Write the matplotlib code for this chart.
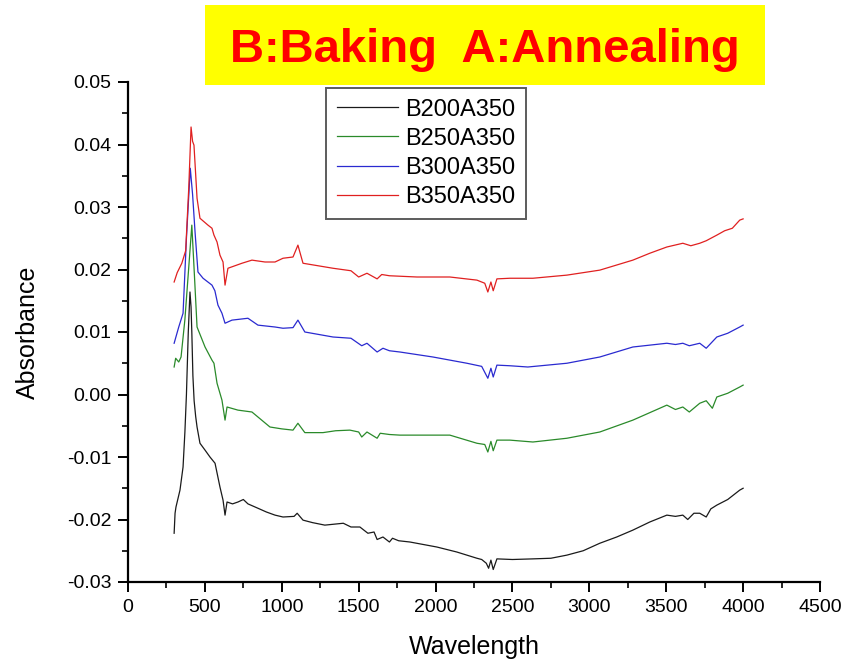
import matplotlib
matplotlib.use("Agg")
import matplotlib.pyplot as plt
from matplotlib.patches import Rectangle
from matplotlib.ticker import MultipleLocator

plt.rcParams['font.family'] = ['Liberation Sans', 'DejaVu Sans']

# ---- data ----
x_b200 = [300, 306, 312, 338, 358, 370, 380, 392, 403, 410, 415, 422, 430, 440, 449, 468, 501, 533, 566,
          598, 618, 631, 644, 680, 715, 750, 780, 845, 900, 956, 1008, 1080, 1100, 1138, 1200, 1280, 1400,
          1450, 1508, 1560, 1600, 1620, 1658, 1700, 1720, 1760, 1833, 2008, 2138, 2269, 2300, 2330, 2345,
          2360, 2375, 2399, 2500, 2633, 2750, 2854, 2960, 3068, 3178, 3283, 3393, 3504, 3560, 3608, 3640,
          3680, 3718, 3760, 3790, 3829, 3900, 3978, 4000]
y_b200 = [-0.0222, -0.0190, -0.0180, -0.0153, -0.0116, -0.0060, 0.0000, 0.0100, 0.0164, 0.0140, 0.0100,
          0.0030, -0.0010, -0.0035, -0.0052, -0.0078, -0.0089, -0.0100, -0.0110,
          -0.0148, -0.0169, -0.0193, -0.0172, -0.0175, -0.0172, -0.0168, -0.0175, -0.0182, -0.0188, -0.0193,
          -0.0196, -0.0195, -0.0190, -0.0201, -0.0205, -0.0209, -0.0206, -0.0212, -0.0212, -0.0222, -0.0220,
          -0.0232, -0.0228, -0.0236, -0.0230, -0.0234, -0.0236, -0.0244, -0.0252, -0.0262, -0.0264, -0.0270,
          -0.0278, -0.0265, -0.0280, -0.0263, -0.0264, -0.0263, -0.0262, -0.0257, -0.0250, -0.0238, -0.0228,
          -0.0217, -0.0204, -0.0193, -0.0195, -0.0193, -0.0200, -0.0190, -0.0190, -0.0196, -0.0183, -0.0177,
          -0.0168, -0.0153, -0.0150]

x_b250 = [300, 310, 330, 345, 370, 400, 415, 430, 449, 501, 546, 559, 579, 611, 631, 644, 715, 806, 845,
          923, 1000, 1073, 1105, 1150, 1268, 1350, 1443, 1500, 1520, 1554, 1620, 1640, 1700, 1768, 2093,
          2269, 2320, 2340, 2360, 2375, 2399, 2483, 2633, 2854, 3068, 3283, 3504, 3560, 3608, 3650, 3718,
          3760, 3800, 3829, 3900, 3978, 4000]
y_b250 = [0.0044, 0.0058, 0.0052, 0.0060, 0.0120, 0.0220, 0.0271, 0.0200, 0.0108, 0.0076, 0.0055, 0.0050,
          0.0018, -0.0009, -0.0041, -0.0020, -0.0025, -0.0028, -0.0036,
          -0.0052, -0.0055, -0.0057, -0.0046, -0.0061, -0.0061, -0.0058, -0.0057, -0.0060, -0.0068, -0.0060,
          -0.0070, -0.0062, -0.0064, -0.0065, -0.0065,
          -0.0078, -0.0080, -0.0092, -0.0075, -0.0090, -0.0073, -0.0073, -0.0076, -0.0070, -0.0060, -0.0041,
          -0.0017, -0.0024, -0.0020, -0.0028, -0.0014, -0.0010, -0.0022, -0.0004, 0.0002, 0.0012, 0.0015]

x_b300 = [300, 330, 358, 380, 405, 420, 436, 455, 488, 546, 565, 585, 611, 631, 676, 780, 845, 956, 1008,
          1073, 1105, 1150, 1333, 1450, 1520, 1554, 1620, 1658, 1700, 1768, 1983, 2204, 2300, 2340, 2360,
          2375, 2399, 2483, 2600, 2854, 3068, 3283, 3504, 3560, 3608, 3650, 3718, 3760, 3829, 3900, 3978, 4000]
y_b300 = [0.0082, 0.0108, 0.0130, 0.0250, 0.0362, 0.0320, 0.0260, 0.0196, 0.0186, 0.0175, 0.0166, 0.0143,
          0.0130, 0.0114, 0.0119, 0.0122, 0.0111, 0.0108, 0.0106,
          0.0107, 0.0119, 0.0100, 0.0092, 0.0090, 0.0078, 0.0082, 0.0068, 0.0074, 0.0070, 0.0068, 0.0060,
          0.0050, 0.0045, 0.0026, 0.0042,
          0.0028, 0.0047, 0.0046, 0.0044, 0.0050, 0.0060, 0.0076, 0.0082, 0.0080, 0.0082, 0.0078, 0.0082,
          0.0074, 0.0092, 0.0098, 0.0108, 0.0111]

x_b350 = [300, 320, 350, 375, 395, 410, 420, 429, 449, 468, 520, 546, 559, 579, 598, 618, 631, 650, 741,
          806, 891, 956, 1008, 1073, 1105, 1138, 1333, 1450, 1500, 1554, 1620, 1650, 1700, 1879, 2093, 2269,
          2320, 2340, 2360, 2375, 2399, 2483, 2633, 2854, 3068, 3283, 3393, 3504, 3608, 3660, 3718, 3760,
          3829, 3880, 3930, 3978, 4000]
y_b350 = [0.0180, 0.0195, 0.0210, 0.0230, 0.0330, 0.0428, 0.0405, 0.0399, 0.0314, 0.0282, 0.0271, 0.0266,
          0.0255, 0.0244, 0.0223, 0.0212, 0.0175, 0.0202, 0.0210,
          0.0215, 0.0212, 0.0212, 0.0218, 0.0220, 0.0239, 0.0210, 0.0202, 0.0198, 0.0188, 0.0194, 0.0185,
          0.0192, 0.0190, 0.0188, 0.0188, 0.0183,
          0.0178, 0.0164, 0.0180, 0.0166, 0.0185, 0.0186, 0.0186, 0.0191, 0.0199, 0.0215, 0.0226, 0.0236,
          0.0242, 0.0238, 0.0242, 0.0246, 0.0255, 0.0262, 0.0266, 0.0279, 0.0281]

labels = ["B200A350", "B250A350", "B300A350", "B350A350"]
colors = ["#1a1a1a", "#2a8a2a", "#2a2ad0", "#e02020"]
title_text = "B:Baking  A:Annealing"

# ---- figure ----
fig = plt.figure(figsize=(8.45, 6.62), dpi=100)
ax = fig.add_axes([128 / 845, 1 - 582 / 662, (820 - 128) / 845, (582 - 82) / 662])

for xs, ys, lab, c in zip([x_b200, x_b250, x_b300, x_b350],
                          [y_b200, y_b250, y_b300, y_b350], labels, colors):
    ax.plot(xs, ys, color=c, lw=0.9, label=lab)

ax.set_xlim(0, 4500)
ax.set_ylim(-0.03, 0.05)
ax.xaxis.set_major_locator(MultipleLocator(500))
ax.xaxis.set_minor_locator(MultipleLocator(250))
ax.yaxis.set_major_locator(MultipleLocator(0.01))
ax.yaxis.set_minor_locator(MultipleLocator(0.005))
ax.yaxis.set_major_formatter(matplotlib.ticker.FuncFormatter(lambda v, p: f"{v:.2f}".replace("-0.00", "0.00")))

for s in ["top", "right"]:
    ax.spines[s].set_visible(False)
for s in ["left", "bottom"]:
    ax.spines[s].set_linewidth(1.6)
ax.tick_params(which="major", direction="out", length=7, width=1.4, labelsize=14, pad=5)
ax.tick_params(which="minor", direction="out", length=4, width=1.2)

ax.set_xlabel("Wavelength", fontsize=18, labelpad=14)
ax.set_ylabel("Absorbance", fontsize=18, labelpad=19)

leg = ax.legend(loc="upper left", bbox_to_anchor=((326 - 128) / 692, (582 - 88) / 500),
                fontsize=17, frameon=True, fancybox=False, handlelength=2.6,
                handletextpad=0.3, labelspacing=0.3, borderpad=0.45, borderaxespad=0)
leg.get_frame().set_edgecolor("#333333")
leg.get_frame().set_linewidth(1.4)

# title box
fig.patches.append(Rectangle((205 / 845, 1 - 85 / 662), 560 / 845, 80 / 662,
                             transform=fig.transFigure, facecolor="#ffff00", edgecolor="none", zorder=5))
fig.text(485 / 845, 1 - 50 / 662, title_text, color="#ff0000", fontsize=34, fontweight="bold",
         ha="center", va="center", zorder=6)

fig.savefig("out.png", dpi=100)
